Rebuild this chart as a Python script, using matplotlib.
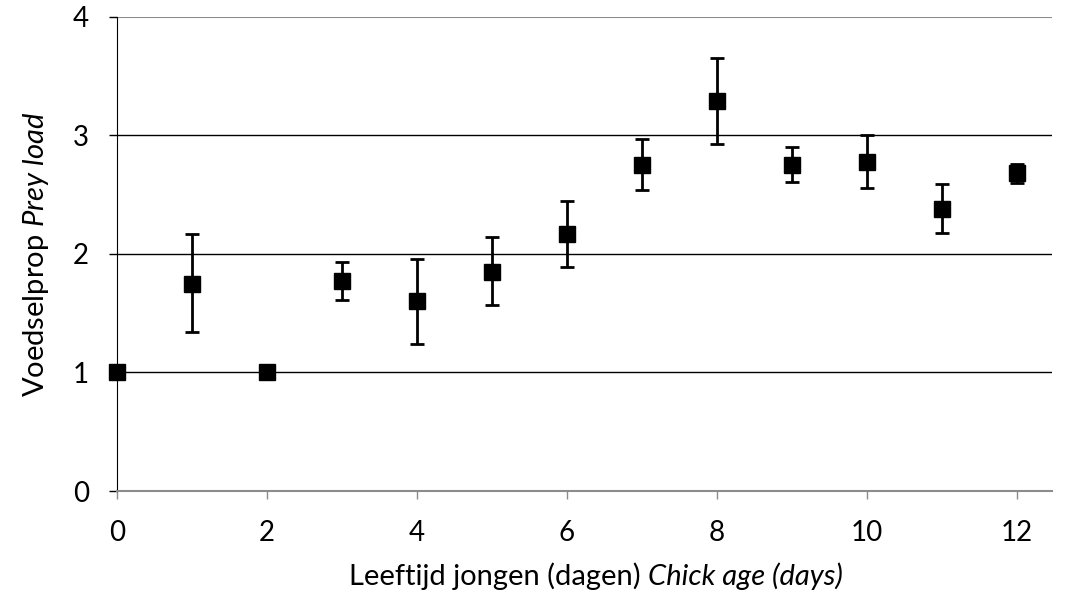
import matplotlib.pyplot as plt
from matplotlib.offsetbox import TextArea, HPacker, AnchoredOffsetbox

plt.rcParams['font.family'] = ['Lato', 'DejaVu Sans']
plt.rcParams['mathtext.fontset'] = 'custom'
plt.rcParams['mathtext.rm'] = 'Lato'
plt.rcParams['mathtext.it'] = 'Lato:italic'

# leeftijd (dagen) en voedselprop
age = [0, 1, 2, 3, 4, 5, 6, 7, 8, 9, 10, 11, 12]
load = [1.0, 1.75, 1.0, 1.77, 1.60, 1.85, 2.17, 2.75, 3.29, 2.75, 2.78, 2.38, 2.68]
err_up = [0.0, 0.42, 0.0, 0.16, 0.36, 0.29, 0.28, 0.22, 0.36, 0.15, 0.22, 0.21, 0.08]
err_down = [0.0, 0.41, 0.0, 0.16, 0.36, 0.28, 0.28, 0.21, 0.36, 0.14, 0.22, 0.20, 0.08]

fig = plt.figure(figsize=(10.78, 5.94), dpi=100)
ax = fig.add_axes([0.1085, 0.1734, 0.8675, 0.798])

# gridlijnen
for yv in [1, 2, 3]:
    ax.axhline(yv, color='black', lw=1, zorder=0)
ax.axhline(4, color='#8c8c8c', lw=1.5, zorder=0)

ax.errorbar(age, load, yerr=[err_down, err_up], fmt='s', color='black',
            markersize=11, elinewidth=2, capsize=5, capthick=2, zorder=3,
            clip_on=False)

ax.set_xlim(0, 12.47)
ax.set_ylim(0, 4)
ax.set_xticks([0, 2, 4, 6, 8, 10, 12])
ax.set_yticks([0, 1, 2, 3, 4])

for s in ['top', 'right']:
    ax.spines[s].set_visible(False)
ax.spines['left'].set_color('black')
ax.spines['bottom'].set_color('#8c8c8c')
ax.spines['bottom'].set_linewidth(1.5)
ax.tick_params(axis='x', length=6, width=1, color='#8c8c8c', labelsize=20, pad=15)
ax.tick_params(axis='y', length=6, width=1, color='black', labelsize=20, pad=14)

# x-as titel: deels cursief
t1 = TextArea('Leeftijd jongen (dagen) ', textprops=dict(fontsize=21))
t2 = TextArea('Chick age (days)', textprops=dict(fontsize=21, style='italic'))
box = HPacker(children=[t1, t2], align='baseline', pad=0, sep=0)
anchored = AnchoredOffsetbox(loc='center', child=box, frameon=False,
                             bbox_to_anchor=(0.553, 0.03),
                             bbox_transform=fig.transFigure, borderpad=0)
fig.add_artist(anchored)

ax.set_ylabel('Voedselprop $\\mathit{Prey\\ load}$', fontsize=21, labelpad=16)

plt.savefig('out.png', dpi=100)
